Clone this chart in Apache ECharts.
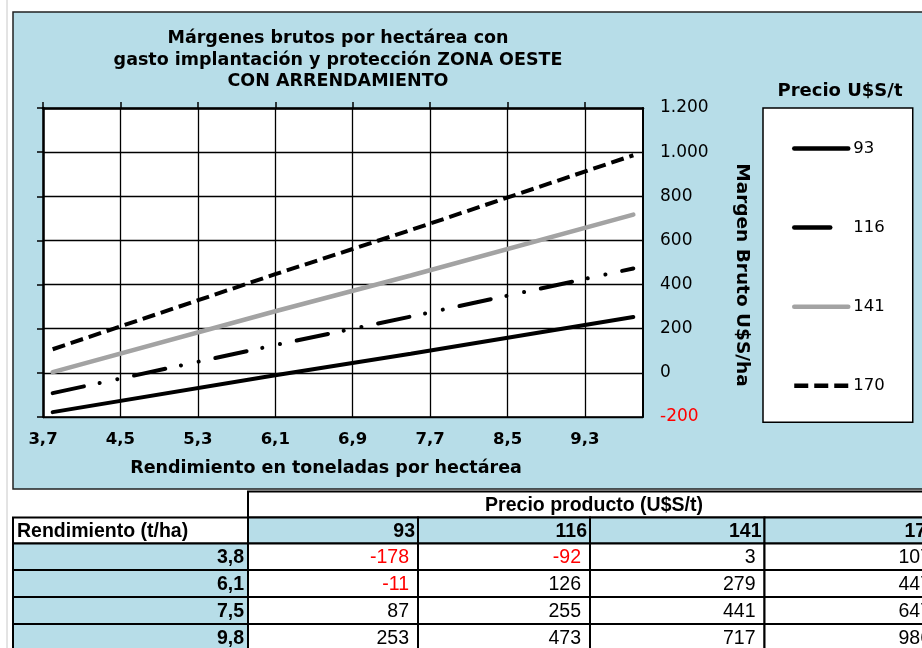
<!DOCTYPE html>
<html><head><meta charset="utf-8">
<script src="https://cdn.jsdelivr.net/npm/echarts@6/dist/echarts.min.js"></script>
<style>html,body{margin:0;padding:0;background:#fff}#c{width:922px;height:648px}</style>
</head><body><div id="c"></div>
<script>
// ---- data ----
const yields = [3.8, 6.1, 7.5, 9.8];
const prices = [93, 116, 141, 170];
const margin93 = [-178, -11, 87, 253];
const margin116 = [-92, 126, 255, 473];
const margin141 = [3, 279, 441, 717];
const margin170 = [107, 447, 647, 986];
const xTicks = [3.7, 4.5, 5.3, 6.1, 6.9, 7.7, 8.5, 9.3];
const chartTitle = 'Márgenes brutos por hectárea con\ngasto implantación y protección ZONA OESTE\nCON ARRENDAMIENTO';
const xName = 'Rendimiento en toneladas por hectárea';
const yName = 'Margen Bruto U$S/ha';
const legendTitle = 'Precio U$S/t';
const tableHeader = 'Precio producto (U$S/t)';
const rowHeader = 'Rendimiento (t/ha)';

const margins = [margin93, margin116, margin141, margin170];
const F = 'DejaVu Sans';
const TF = 'Liberation Sans';
const BLUE = '#b7dde8';

function pairs(arr) { return yields.map((y, i) => [y, arr[i]]); }
function thou(v) { return String(Math.abs(v)).replace(/\B(?=(\d{3})+(?!\d))/g, '.'); }
function dec(v) { return v.toFixed(1).replace('.', ','); }

const styles = [
  { color: '#000', width: 4, type: 'solid', cap: 'round' },
  { color: '#000', width: 4, type: [32, 16, 0.1, 18, 0.1, 17], cap: 'round' },
  { color: '#a3a3a3', width: 4.5, type: 'solid', cap: 'round' },
  { color: '#000', width: 4, type: [13, 6], cap: 'butt' }
];
const legendLine = [
  { type: 'solid' },
  { type: [36, 200] },
  { type: 'solid' },
  { type: [14, 6] }
];

const series = prices.map((p, i) => ({
  name: String(p),
  type: 'line',
  data: pairs(margins[i]),
  symbol: 'none',
  lineStyle: styles[i],
  itemStyle: { color: styles[i].color },
  xAxisIndex: 0, yAxisIndex: 0,
  z: 5
}));

// ---- table (graphic) ----
const cols = [13, 248, 418, 590, 764.5, 940];
const rows = [491.5, 517.5, 543.5, 570, 597, 624, 651];
const g = [];
g.push({ type: 'rect', z: -20, shape: { x: 13, y: 12, width: 920, height: 477 }, style: { fill: BLUE, stroke: '#222', lineWidth: 1.5 } });
g.push({ type: 'line', z: -20, shape: { x1: 7, y1: 0, x2: 7, y2: 648 }, style: { stroke: '#c8c8c8', lineWidth: 1 } });
function cell(x1, x2, y1, y2, fill) {
  g.push({ type: 'rect', shape: { x: x1, y: y1, width: x2 - x1, height: y2 - y1 }, style: { fill: fill, stroke: '#000', lineWidth: 2 } });
}
function txt(s, x, y, align, bold, color) {
  g.push({ type: 'text', x: x, y: y, style: { text: s, align: align, verticalAlign: 'middle', fill: color || '#000', font: (bold ? 'bold ' : '') + '19.5px "' + TF + '"' } });
}
// row 0
cell(cols[1], cols[5], rows[0], rows[1], '#fff');
txt(tableHeader, (cols[1] + cols[5]) / 2, (rows[0] + rows[1]) / 2 + 1, 'center', true);
// row 1
cell(cols[0], cols[1], rows[1], rows[2], '#fff');
txt(rowHeader, 17, (rows[1] + rows[2]) / 2 + 1, 'left', true);
prices.forEach((p, j) => {
  cell(cols[j + 1], cols[j + 2], rows[1], rows[2], BLUE);
  txt(String(p), cols[j + 2] - 3, (rows[1] + rows[2]) / 2 + 1, 'right', true);
});
// data rows
yields.forEach((yv, i) => {
  const r1 = rows[i + 2], r2 = rows[i + 3], cy = (r1 + r2) / 2 + 1;
  cell(cols[0], cols[1], r1, r2, BLUE);
  txt(dec(yv), cols[1] - 4, cy, 'right', true);
  margins.forEach((m, j) => {
    cell(cols[j + 1], cols[j + 2], r1, r2, '#fff');
    txt(String(m[i]), cols[j + 2] - 9, cy, 'right', false, m[i] < 0 ? '#ff0000' : '#000');
  });
});

const chart = echarts.init(document.getElementById('c'), null, { renderer: 'canvas' });
chart.setOption({
  backgroundColor: '#fff',
  animation: false,
  title: [
    { text: chartTitle, left: 333, top: 23, textAlign: 'center',
      textStyle: { fontFamily: F, fontWeight: 'bold', fontSize: 17.5, lineHeight: 21.5, color: '#000' } },
    { text: legendTitle, left: 835, top: 77, textAlign: 'center',
      textStyle: { fontFamily: F, fontWeight: 'bold', fontSize: 18, color: '#000' } }
  ],
  legend: {
    orient: 'vertical', left: 763, top: 108,
    padding: [32, 28, 28, 29], itemGap: 62.1, itemWidth: 54, itemHeight: 14,
    backgroundColor: '#fff', borderColor: '#000', borderWidth: 1.5, borderRadius: 0,
    itemStyle: { opacity: 0 },
    lineStyle: { width: 4.5 },
    textStyle: { fontFamily: F, fontSize: 16.5, color: '#000' },
    data: prices.map((p, i) => ({ name: String(p), lineStyle: legendLine[i] }))
  },
  grid: { left: 43, right: 279, top: 108, bottom: 231, show: true, backgroundColor: '#fff', borderWidth: 0, containLabel: false },
  xAxis: [
    { type: 'value', position: 'bottom', min: 3.7, max: 9.9,
      axisLine: { show: true, onZero: false, lineStyle: { color: '#000', width: 1.5 } },
      axisTick: { show: false, customValues: xTicks },
      axisLabel: { customValues: xTicks, formatter: v => dec(v), margin: 14, color: '#000', fontFamily: F, fontWeight: 'bold', fontSize: 16.5 },
      splitLine: { show: true, lineStyle: { color: '#000', width: 1.3 } },
      name: xName, nameLocation: 'middle', nameGap: 42,
      nameTextStyle: { fontFamily: F, fontWeight: 'bold', fontSize: 17.5, color: '#000', padding: [0, 34, 0, 0] }
    },
    { type: 'value', position: 'top', min: 3.7, max: 9.9,
      axisLine: { show: true, onZero: false, lineStyle: { color: '#000', width: 2.5 } },
      axisTick: { show: true, inside: false, length: 6, customValues: xTicks, lineStyle: { color: '#000', width: 1.5 } },
      axisLabel: { show: false, customValues: xTicks },
      splitLine: { show: false }
    }
  ],
  yAxis: [
    { type: 'value', position: 'right', min: -200, max: 1200, interval: 200,
      axisLine: { show: true, onZero: false, lineStyle: { color: '#000', width: 2 } },
      axisTick: { show: false },
      axisLabel: { margin: 17, color: '#000', fontFamily: F, fontSize: 17,
        formatter: v => v < 0 ? '{neg|-' + thou(v) + '}' : thou(v),
        rich: { neg: { color: '#ff0000', fontFamily: F, fontSize: 17 } } },
      splitLine: { show: true, lineStyle: { color: '#000', width: 1.3 } },
      name: yName, nameLocation: 'middle', nameRotate: -90, nameGap: 89,
      nameTextStyle: { fontFamily: F, fontWeight: 'bold', fontSize: 18.5, color: '#000', padding: [0, 0, 0, 25] }
    },
    { type: 'value', position: 'left', min: -200, max: 1200, interval: 200,
      axisLine: { show: true, onZero: false, lineStyle: { color: '#000', width: 2.5 } },
      axisTick: { show: true, inside: false, length: 6, lineStyle: { color: '#000', width: 1.5 } },
      axisLabel: { show: false },
      splitLine: { show: false }
    }
  ],
  graphic: g,
  series: series
});
</script>
</body></html>
